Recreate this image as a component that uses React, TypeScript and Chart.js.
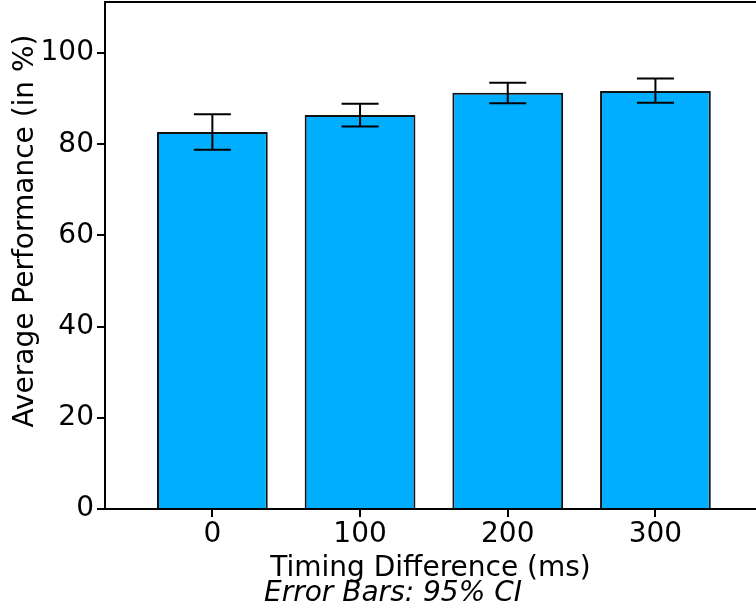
import React, { useEffect, useRef } from 'react';
import { Chart, registerables } from 'chart.js';

Chart.register(...registerables);

// ---- data ----
const categories = ['0', '100', '200', '300'];
const means = [82.7, 86.4, 91.3, 91.7];
const ciLow = [78.8, 83.9, 89.0, 89.1];
const ciHigh = [86.6, 88.9, 93.5, 94.4];
const yTicks = [0, 20, 40, 60, 80, 100];
const yAxisTitle = 'Average Performance (in %)';
const xAxisTitle = 'Timing Difference (ms)';
const noteText = 'Error Bars: 95% CI';

const FONT = "'DejaVu Sans', Verdana, sans-serif";
const FONT_SIZE = 28;
const TICK_LEN = 8;

export default function App() {
  const ref = useRef<HTMLCanvasElement>(null);

  useEffect(() => {
    document.body.style.margin = '0';
    const canvas = ref.current!;

    const errorBars = {
      id: 'errorBars',
      afterDatasetsDraw(chart: any) {
        const { ctx, scales } = chart;
        const x = scales.x;
        const y = scales.y;
        ctx.save();
        ctx.strokeStyle = '#000';
        ctx.lineWidth = 2;
        const capHalf = 18.5;
        means.forEach((_, i) => {
          const px = x.getPixelForValue(i);
          const yl = y.getPixelForValue(ciLow[i]);
          const yh = y.getPixelForValue(ciHigh[i]);
          ctx.beginPath();
          ctx.moveTo(px, yl);
          ctx.lineTo(px, yh);
          ctx.moveTo(px - capHalf, yh);
          ctx.lineTo(px + capHalf, yh);
          ctx.moveTo(px - capHalf, yl);
          ctx.lineTo(px + capHalf, yl);
          ctx.stroke();
        });
        ctx.restore();
      },
    };

    const extras = {
      id: 'extras',
      afterDraw(chart: any) {
        const { ctx, chartArea, width, scales } = chart;
        ctx.save();
        ctx.strokeStyle = '#000';
        ctx.lineWidth = 2;
        // top frame line
        ctx.beginPath();
        ctx.moveTo(chartArea.left, chartArea.top);
        ctx.lineTo(width, chartArea.top);
        ctx.stroke();
        // x-axis tick marks at category positions
        ctx.beginPath();
        categories.forEach((_, i) => {
          const px = Math.round(scales.x.getPixelForValue(i));
          ctx.moveTo(px, chartArea.bottom);
          ctx.lineTo(px, chartArea.bottom + TICK_LEN);
        });
        ctx.stroke();
        // y axis title
        ctx.fillStyle = '#000';
        ctx.font = `${FONT_SIZE}px ${FONT}`;
        ctx.textAlign = 'center';
        ctx.textBaseline = 'middle';
        ctx.translate(26, 231);
        ctx.rotate(-Math.PI / 2);
        ctx.fillText(yAxisTitle, 0, 0);
        ctx.restore();
        // note
        ctx.save();
        ctx.fillStyle = '#000';
        ctx.font = `italic ${FONT_SIZE}px ${FONT}`;
        ctx.textAlign = 'center';
        ctx.textBaseline = 'alphabetic';
        ctx.fillText(noteText, 393, 601);
        ctx.restore();
      },
    };

    const chart = new Chart(canvas, {
      type: 'bar',
      data: {
        datasets: [
          {
            data: means.map((m, i) => ({ x: i, y: m })),
            backgroundColor: '#00AEFF',
            borderColor: '#111',
            borderWidth: 2,
            barPercentage: 0.75,
            categoryPercentage: 1,
          },
        ],
      },
      options: {
        animation: false,
        responsive: false,
        devicePixelRatio: 1,
        layout: { padding: { top: 2, left: 0, right: 0, bottom: 0 } },
        plugins: {
          legend: { display: false },
          tooltip: { enabled: false },
        },
        scales: {
          x: {
            type: 'linear',
            min: -0.727,
            max: 3.681,
            offset: false,
            afterBuildTicks: (s: any) => {
              s.ticks = categories.map((_, i) => ({ value: i }));
            },
            afterFit: (s: any) => {
              s.height = 105;
              s.paddingLeft = 0;
              s.paddingRight = 0;
            },
            ticks: {
              callback: (v: any) => categories[v as number] ?? '',
              font: { family: FONT, size: FONT_SIZE },
              color: '#000',
              padding: 1,
              maxRotation: 0,
              autoSkip: false,
            },
            grid: {
              display: true,
              offset: false,
              drawOnChartArea: false,
              drawTicks: true,
              tickLength: TICK_LEN,
              color: '#000',
              lineWidth: 2,
            },
            border: { display: true, color: '#000', width: 2 },
            title: {
              display: true,
              text: xAxisTitle,
              color: '#000',
              font: { family: FONT, size: FONT_SIZE },
              padding: { top: 0, bottom: 28 },
            },
          },
          y: {
            type: 'linear',
            min: 0,
            max: 111.2,
            afterBuildTicks: (s: any) => {
              s.ticks = yTicks.map((v) => ({ value: v }));
            },
            afterFit: (s: any) => {
              s.width = 105;
              s.paddingTop = 0;
              s.paddingBottom = 0;
            },
            ticks: {
              font: { family: FONT, size: FONT_SIZE },
              color: '#000',
              padding: 3,
            },
            grid: {
              display: true,
              offset: false,
              drawOnChartArea: false,
              drawTicks: true,
              tickLength: TICK_LEN,
              color: '#000',
              lineWidth: 2,
            },
            border: { display: true, color: '#000', width: 2 },
          },
        },
      },
      plugins: [errorBars, extras],
    } as any);

    return () => chart.destroy();
  }, []);

  return (
    <div style={{ width: 756, height: 614 }}>
      <canvas ref={ref} width={756} height={614} style={{ display: 'block' }} />
    </div>
  );
}
